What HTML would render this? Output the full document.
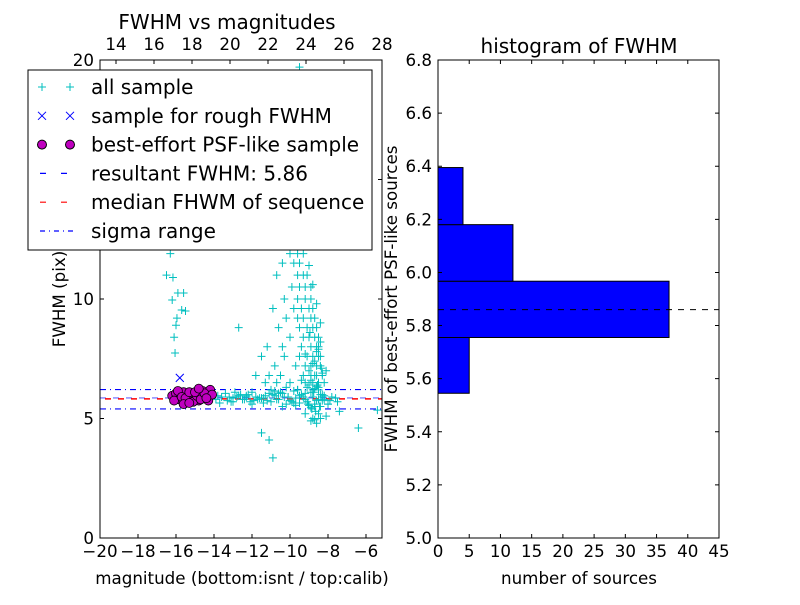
<!DOCTYPE html>
<html><head><meta charset="utf-8"><style>
body{margin:0;background:#fff;}
svg text{font-family:"DejaVu Sans","Liberation Sans",sans-serif;fill:#000;}
</style></head><body>
<svg id="chart" width="800" height="600" xmlns="http://www.w3.org/2000/svg">
<rect width="800" height="600" fill="#fff"/>
<g id="left"></g><g id="right"></g><g id="legendg"></g>
</svg>
<script>
// ---- data ----
const allMag=[-16.3,-16.5,-16.16,-15.9,-15.6,-16.2,-15.7,-15.5,-15.95,-16.0,-16.1,-16.05,
-10.0,-9.6,-9.3,-10.4,-9.8,-9.5,-10.7,-9.6,-9.3,-9.1,-9.9,-9.5,-9.2,-8.9,-10.3,-9.6,-9.2,-8.9,
-10.9,-9.8,-9.4,-9.0,-8.8,-10.2,-9.6,-9.3,-8.9,-8.7,-10.6,-9.5,-9.1,-8.8,-8.6,-10.0,-9.3,-9.0,-8.7,-8.5,
-11.2,-10.4,-9.4,-8.9,-8.6,-8.5,-11.5,-10.3,-9.5,-9.1,-8.8,-8.5,-8.4,-10.8,-9.7,-9.2,-8.9,-8.6,-8.4,
-11.8,-11.1,-10.5,-9.3,-8.9,-8.7,-8.3,-11.3,-10.7,-10.0,-9.2,-8.8,-8.5,-8.2,-12.7,
-9.7,-9.4,-9.1,-9.9,-9.5,-9.0,-10.1,-9.6,-9.3,-10.3,-9.8,-9.5,-10.2,-9.7,-10.0,-9.6,-9.5,
-13.9,-13.6,-13.3,-13.0,-12.7,-12.4,-12.1,-11.8,-11.5,-11.2,-10.9,-10.6,-10.3,-10.0,-9.7,-9.4,-9.1,-8.8,-8.5,-8.2,-7.9,-7.6,
-13.8,-13.4,-13.1,-12.8,-12.5,-12.2,-11.9,-11.6,-11.3,-11.0,-10.7,-10.4,-10.1,-9.8,-9.5,-9.2,-8.9,-8.6,-8.3,-8.0,
-13.7,-13.2,-12.9,-12.3,-12.0,-11.4,-10.8,-10.2,-9.6,-9.0,-8.7,-8.4,-7.5,
-9.2,-8.8,-8.6,-8.4,-8.1,-7.4,-8.9,-11.5,-11.1,-10.9,-6.4,-5.4,-8.5,-8.3,-8.7,
-9.0,-8.8,-8.6,-8.4,-9.1,-8.9,-8.7,-8.5,-8.3,-9.2,-8.95,-8.75,-8.55,-8.35,-9.05,-8.85,-8.65,-8.45,-8.6,-8.8,
-10.5,-10.2,-9.9,-9.6,-9.3,-9.0,-8.7,-8.4,-10.4,-10.1,-9.8,-9.5,-9.2,-8.9,-8.6,-8.3,-11.0,-10.6,-9.7,-9.4,-8.5,-8.2,-8.0,
-12.6,-12.0,-11.4,-10.8,-13.0,-12.3,-11.7,-11.1,-8.1,-7.8,-8.4,-8.6,-8.8,-9.0,-8.5,-8.7];
const allFwhm=[11.9,11.0,10.9,10.25,10.25,9.96,9.54,9.5,9.2,8.9,8.4,7.74,
11.9,11.9,11.9,11.5,11.5,11.5,11.0,11.0,11.0,11.0,10.5,10.5,10.5,10.5,10.0,10.0,10.0,10.0,
9.6,9.6,9.6,9.6,9.6,9.2,9.2,9.2,9.2,9.2,8.8,8.8,8.8,8.8,8.8,8.4,8.4,8.4,8.4,8.4,
8.0,8.0,8.0,8.0,8.0,8.0,7.6,7.6,7.6,7.6,7.6,7.6,7.6,7.2,7.2,7.2,7.2,7.2,7.2,
6.8,6.8,6.8,6.8,6.8,6.8,6.8,6.5,6.5,6.5,6.5,6.5,6.5,6.5,8.8,
12.5,13.5,14.5,15.2,16.0,16.8,17.5,18.2,19.0,12.8,13.8,14.8,15.6,16.5,17.2,18.8,19.7,
5.8,5.9,5.75,5.85,5.95,5.8,5.7,5.9,5.85,5.75,6.0,5.8,5.9,5.75,5.85,6.0,5.7,5.9,5.8,5.95,5.75,5.85,
5.95,6.05,5.7,5.9,5.8,6.0,5.75,5.85,5.95,5.7,5.8,6.05,5.9,5.65,5.95,5.8,6.1,5.75,5.9,5.6,
5.65,5.9,6.1,5.95,5.6,5.85,6.15,5.6,6.2,5.55,6.25,5.5,5.7,
5.2,5.0,4.8,5.0,5.1,5.3,4.9,4.4,4.1,3.35,4.6,5.35,6.2,6.0,5.5,
7.0,7.3,7.8,8.2,6.3,6.6,7.4,7.9,6.9,7.7,8.6,6.1,6.4,7.1,5.6,5.4,5.3,5.5,6.8,6.2,
6.1,6.3,5.7,6.2,5.9,6.4,5.6,6.0,5.5,5.9,6.15,5.65,6.05,5.45,6.35,5.75,6.2,6.05,5.55,6.6,6.3,5.8,5.6,
6.0,6.1,5.65,5.95,5.7,5.9,5.8,6.05,7.0,5.9,9.0,9.8,10.6,11.4,5.2,4.95];
const roughMag=[-15.8,-15.7,-15.9];
const roughFwhm=[6.7,6.1,5.9];
const psfMag=[-16.2,-16.0,-15.8,-15.6,-15.4,-15.2,-15.0,-14.8,-14.6,-14.4,-14.2,-16.1,-15.9,-15.7,-15.5,-15.3,-15.1,-14.9,-14.7,-14.5,-14.3,-14.1,-15.6,-15.0,-14.4,-15.3,-14.8];
const psfFwhm=[5.95,6.05,5.8,6.1,5.7,5.95,6.0,5.75,6.15,5.9,6.2,5.75,6.15,5.9,5.85,6.1,5.7,5.95,5.8,6.05,5.75,6.0,5.6,6.1,5.85,5.65,6.25];
const resultantFwhm=5.86, medianFwhm=5.82, sigmaLow=5.40, sigmaHigh=6.21;
const binEdges=[5.545,5.755,5.967,6.18,6.395];
const binCounts=[5,37,12,4];
const bottomTicks=[-20,-18,-16,-14,-12,-10,-8,-6];
const topTicks=[14,16,18,20,22,24,26,28];
const leftYTicks=[0,5,10,15,20];
const histXTicks=[0,5,10,15,20,25,30,35,40,45];
const histYTicks=[5.0,5.2,5.4,5.6,5.8,6.0,6.2,6.4,6.6,6.8];

const NS="http://www.w3.org/2000/svg";
function mk(parent,tag,attrs){const e=document.createElementNS(NS,tag);for(const k in attrs)e.setAttribute(k,attrs[k]);parent.appendChild(e);return e;}
function txt(parent,x,y,s,size,anchor,name){const t=mk(parent,'text',{x:x,y:y,'font-size':size,'text-anchor':anchor||'middle'});t.textContent=s;


return t;}
const fmtNeg=v=>v<0?'\u2212'+Math.abs(v):''+v;
const TS=16.7;

// ---- left axes ----
const L={x0:100,x1:382,y0:60,y1:538};
const xL=m=>L.x0+(m+20)*19;
const yL=f=>L.y1-f*23.9;
const xTop=v=>116+(v-14)*19;
const gl=document.getElementById('left');
const sigTop=mk(gl,'line',{x1:L.x0,x2:L.x1,y1:yL(sigmaHigh),y2:yL(sigmaHigh),stroke:'#00f','stroke-dasharray':'6,4,1,4','stroke-width':1.2});


const sigBot=mk(gl,'line',{x1:L.x0,x2:L.x1,y1:yL(sigmaLow),y2:yL(sigmaLow),stroke:'#00f','stroke-dasharray':'6,4,1,4','stroke-width':1.2});


const resL=mk(gl,'line',{x1:L.x0,x2:L.x1,y1:yL(resultantFwhm),y2:yL(resultantFwhm),stroke:'#00f','stroke-dasharray':'6,7','stroke-width':1.2,opacity:0.6});


const medL=mk(gl,'line',{x1:L.x0+5,x2:L.x1,y1:yL(medianFwhm),y2:yL(medianFwhm),stroke:'#f00','stroke-dasharray':'6,7','stroke-width':1.5});


for(let i=0;i<allMag.length;i++){
  const x=xL(allMag[i]),y=yL(allFwhm[i]);
  const p=mk(gl,'path',{d:`M${x-4},${y}h8M${x},${y-4}v8`,stroke:'#00bfbf','stroke-width':1});
  
  
}
for(let i=0;i<roughMag.length;i++){
  const x=xL(roughMag[i]),y=yL(roughFwhm[i]);
  const p=mk(gl,'path',{d:`M${x-4},${y-4}l8,8M${x-4},${y+4}l8,-8`,stroke:'#00f','stroke-width':1});
  
  
}
for(let i=0;i<psfMag.length;i++){
  const c=mk(gl,'circle',{cx:xL(psfMag[i]),cy:yL(psfFwhm[i]),r:4.5,fill:'#bf00bf',stroke:'#000','stroke-width':0.8});
  
  
}
const fL=mk(gl,'rect',{x:L.x0,y:L.y0,width:L.x1-L.x0,height:L.y1-L.y0,fill:'none',stroke:'#000'});


bottomTicks.forEach(v=>{const x=xL(v);mk(gl,'path',{d:`M${x},${L.y1}v-4`,stroke:'#000'});txt(gl,x,557,fmtNeg(v),TS,'middle','bottom-tick-label');});
topTicks.forEach(v=>{const x=xTop(v);mk(gl,'path',{d:`M${x},${L.y0}v4`,stroke:'#000'});txt(gl,x,50,''+v,TS,'middle','top-tick-label');});
leftYTicks.forEach(v=>{const y=yL(v);mk(gl,'path',{d:`M${L.x0},${y}h4M${L.x1},${y}h-4`,stroke:'#000'});txt(gl,94,y+6,''+v,TS,'end','left-y-tick-label');});
txt(gl,227,29,'FWHM vs magnitudes',20,'middle','left-title');
txt(gl,242,584,'magnitude (bottom:isnt / top:calib)',TS,'middle','left-x-axis-title');
const yl=txt(gl,0,0,'FWHM (pix)',TS,'middle','left-y-axis-title');yl.setAttribute('transform','translate(65,299) rotate(-90)');

// ---- right axes ----
const R={x0:438,x1:719,y0:60,y1:538};
const xR=c=>R.x0+c*(R.x1-R.x0)/45;
const yR=f=>R.y1-(f-5)*(R.y1-R.y0)/1.8;
const gr=document.getElementById('right');
for(let i=0;i<binCounts.length;i++){
  const b=mk(gr,'rect',{x:xR(0),y:yR(binEdges[i+1]),width:xR(binCounts[i])-xR(0),height:yR(binEdges[i])-yR(binEdges[i+1]),fill:'#00f',stroke:'#000'});
  
  
}
const rl=mk(gr,'line',{x1:R.x0,x2:R.x1,y1:yR(resultantFwhm),y2:yR(resultantFwhm),stroke:'#000','stroke-dasharray':'6,6'});


const fR=mk(gr,'rect',{x:R.x0,y:R.y0,width:R.x1-R.x0,height:R.y1-R.y0,fill:'none',stroke:'#000'});


histXTicks.forEach(v=>{const x=xR(v);mk(gr,'path',{d:`M${x},${R.y1}v-4M${x},${R.y0}v4`,stroke:'#000'});txt(gr,x,557,''+v,TS,'middle','hist-x-tick-label');});
histYTicks.forEach(v=>{const y=yR(v);mk(gr,'path',{d:`M${R.x0},${y}h4M${R.x1},${y}h-4`,stroke:'#000'});txt(gr,432,y+6,v.toFixed(1),TS,'end','hist-y-tick-label');});
txt(gr,579,53,'histogram of FWHM',20,'middle','right-title');
txt(gr,579,584,'number of sources',TS,'middle','right-x-axis-title');
const yr=txt(gr,0,0,'FWHM of best-effort PSF-like sources',TS,'middle','right-y-axis-title');yr.setAttribute('transform','translate(397,299) rotate(-90)');

// ---- legend ----
const lg=document.getElementById('legendg');
const box=mk(lg,'rect',{x:28,y:70,width:344,height:180,fill:'#fff',stroke:'#000'});


const labels=['all sample','sample for rough FWHM','best-effort PSF-like sample','resultant FWHM: 5.86','median FHWM of sequence','sigma range'];
labels.forEach((s,i)=>{
  const y=87+i*28.8;
  if(i===0){[42,70].forEach(x=>mk(lg,'path',{d:`M${x-4},${y}h8M${x},${y-4}v8`,stroke:'#00bfbf'}));}
  if(i===1){[42,70].forEach(x=>mk(lg,'path',{d:`M${x-4},${y-4}l8,8M${x-4},${y+4}l8,-8`,stroke:'#00f'}));}
  if(i===2){[42,70].forEach(x=>mk(lg,'circle',{cx:x,cy:y,r:4.5,fill:'#bf00bf',stroke:'#000'}));}
  if(i===3)mk(lg,'line',{x1:38,x2:75,y1:y,y2:y,stroke:'#00f','stroke-dasharray':'6,15','stroke-dashoffset':-2,'stroke-width':1.2});
  if(i===4)mk(lg,'line',{x1:38,x2:75,y1:y,y2:y,stroke:'#f00','stroke-dasharray':'6,15','stroke-dashoffset':-2,'stroke-width':1.2});
  if(i===5)mk(lg,'line',{x1:40,x2:75,y1:y,y2:y,stroke:'#00f','stroke-dasharray':'5,4,1,4','stroke-width':1.2});
  txt(lg,91,y+7,s,20,'start','legend-entry');
});
</script>
</body></html>
